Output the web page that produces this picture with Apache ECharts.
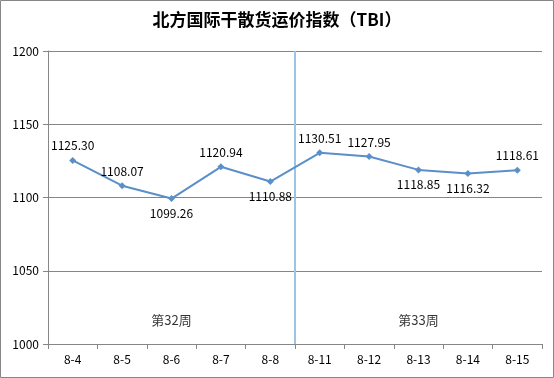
<!DOCTYPE html>
<html><head><meta charset="utf-8">
<script src="https://cdn.jsdelivr.net/npm/echarts@6/dist/echarts.min.js"></script>
<style>html,body{margin:0;padding:0;background:#fff}#c{width:554px;height:378px}</style>
</head><body><div id="c"></div>
<script>
const categories = ['8-4','8-5','8-6','8-7','8-8','8-11','8-12','8-13','8-14','8-15'];
const values = [1125.30,1108.07,1099.26,1120.94,1110.88,1130.51,1127.95,1118.85,1116.32,1118.61];
const labelPos = ['top','top','bottom','top','bottom','top','top','bottom','bottom','top'];
const weekLabels = ['第32周','第33周'];
const weekX = [2.5,7.5];
const weekY = 1016;
const dividerX = 5;
const yTicks = [1000,1050,1100,1150,1200];

const chart = echarts.init(document.getElementById('c'));
const font = '"Noto Sans CJK SC", "Open Sans", sans-serif';
chart.setOption({
  animation:false,
  title:{text:'北方国际干散货运价指数（TBI）',left:'center',top:6,
    textStyle:{fontSize:17,fontWeight:'bold',color:'#000',fontFamily:font}},
  graphic:[{type:'rect',shape:{x:0.5,y:0.5,width:553,height:377},style:{fill:'none',stroke:'#868686',lineWidth:1},silent:true}],
  grid:{left:48,right:12,top:51,bottom:34},
  xAxis:[{type:'category',data:categories,boundaryGap:true,
    axisLine:{lineStyle:{color:'#868686'}},
    axisTick:{show:true,length:5,lineStyle:{color:'#868686'}},
    axisLabel:{color:'#000',fontSize:12,fontFamily:font,margin:9}},
   {type:'value',min:0,max:10,show:false}],
  yAxis:{type:'value',min:yTicks[0],max:yTicks[yTicks.length-1],interval:50,
    axisLine:{show:true,lineStyle:{color:'#868686'}},
    axisTick:{show:true,length:5,lineStyle:{color:'#868686'}},
    splitLine:{lineStyle:{color:'#868686'}},
    axisLabel:{color:'#000',fontSize:12,fontFamily:font,margin:9,formatter:v=>String(v)}},
  series:[
    {type:'line',data:values.map((v,i)=>({value:v,label:{position:labelPos[i]}})),
     symbol:'diamond',symbolSize:7,
     lineStyle:{color:'#5B8FC9',width:2},itemStyle:{color:'#5B8FC9'},
     label:{show:true,formatter:p=>p.value.toFixed(2),color:'#000',fontSize:12,fontFamily:font,distance:5},
     z:3},
    {type:'line',xAxisIndex:1,data:[[dividerX,yTicks[0]],[dividerX,yTicks[yTicks.length-1]]],
     symbol:'none',lineStyle:{color:'#9DC3E6',width:2},z:2},
    {type:'scatter',xAxisIndex:1,symbolSize:0,
     data:weekX.map((x,i)=>({value:[x,weekY],label:{formatter:weekLabels[i]}})),
     label:{show:true,position:'inside',color:'#000',fontSize:13,fontFamily:font}}
  ]
});
</script></body></html>
